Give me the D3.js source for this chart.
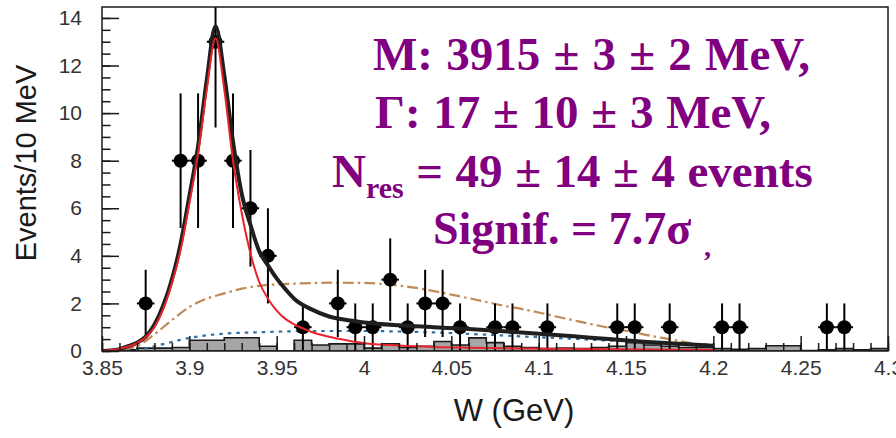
<!DOCTYPE html>
<html>
<head>
<meta charset="utf-8">
<script src="https://cdn.jsdelivr.net/npm/d3@7"></script>
<style>
  html, body { margin: 0; padding: 0; background: #fff; }
  svg { display: block; }
</style>
</head>
<body>
<svg id="chart" width="896" height="438"></svg>
<script>
// ---- data --------------------------------------------------------------
// measured events per 10 MeV bin (bin centres in GeV)
const pointMass = [3.875, 3.895, 3.905, 3.915, 3.925, 3.935, 3.945, 3.965, 3.985, 3.995,
                   4.005, 4.015, 4.025, 4.035, 4.045, 4.055, 4.075, 4.085, 4.105, 4.145,
                   4.155, 4.175, 4.205, 4.215, 4.265, 4.275];
const pointEvents = [2, 8, 8, 13, 8, 6, 4, 1, 2, 1,
                     1, 3, 1, 2, 2, 1, 1, 1, 1, 1,
                     1, 1, 1, 1, 1, 1];

// sideband histogram (lower bin edges, 10 MeV bins)
const histEdges = d3.range(45).map(i => +(3.85 + i * 0.01).toFixed(2));
const histValues = [0, 0.05, 0.12, 0.12, 0.15, 0.45, 0.45, 0.56, 0.56, 0.2,
                    0, 0.45, 0.25, 0.3, 0.3, 0.12, 0.3, 0.15, 0.2, 0.4,
                    0.25, 0.55, 0.35, 0.2, 0.15, 0.1, 0.12, 0.1, 0.15, 0.2,
                    0.35, 0.25, 0.2, 0.15, 0.15, 0.1, 0.07, 0.1, 0.22, 0.22,
                    0.02, 0.05, 0.1, 0.05, 0.1];

// total fit
const totalMass = [3.85, 3.855, 3.86, 3.865, 3.87, 3.875, 3.88, 3.885, 3.89, 3.895,
                   3.9, 3.905, 3.91, 3.915, 3.92, 3.925, 3.93, 3.935, 3.94, 3.945,
                   3.95, 3.955, 3.96, 3.97, 3.98, 3.99, 4.0, 4.02, 4.04, 4.06,
                   4.08, 4.1, 4.12, 4.14, 4.16, 4.18, 4.2];
const totalFit = [0, 0.02, 0.08, 0.2, 0.35, 0.6, 1.1, 1.9, 3.0, 4.5,
                  6.5, 8.6, 11.4, 13.65, 11.6, 8.8, 6.6, 5.3, 4.2, 3.6,
                  3.05, 2.6, 2.2, 1.75, 1.45, 1.3, 1.2, 1.08, 1.0, 0.92,
                  0.83, 0.73, 0.62, 0.5, 0.39, 0.3, 0.22];

// resonance component
const signalMass = [3.85, 3.86, 3.87, 3.875, 3.88, 3.885, 3.89, 3.895, 3.9, 3.905,
                    3.91, 3.915, 3.92, 3.925, 3.93, 3.935, 3.94, 3.945, 3.95, 3.955,
                    3.96, 3.965, 3.97, 3.98, 3.99, 4.0, 4.02, 4.04, 4.06, 4.08,
                    4.1, 4.13, 4.16, 4.2];
const signalFit = [0, 0.1, 0.33, 0.58, 1.0, 1.75, 2.85, 4.25, 6.2, 8.3,
                   11.0, 13.15, 11.0, 8.0, 5.8, 4.1, 2.9, 2.2, 1.7, 1.35,
                   1.12, 0.95, 0.8, 0.6, 0.45, 0.33, 0.23, 0.17, 0.14, 0.12,
                   0.1, 0.08, 0.06, 0.04];

// non-resonant background
const bkgMass = [3.85, 3.86, 3.87, 3.88, 3.89, 3.9, 3.91, 3.92, 3.94, 3.96,
                 3.98, 4.0, 4.02, 4.04, 4.06, 4.08, 4.1, 4.12, 4.14, 4.16,
                 4.18, 4.2];
const bkgFit = [0, 0, 0.04, 0.2, 0.38, 0.55, 0.66, 0.73, 0.79, 0.83,
                0.84, 0.84, 0.82, 0.78, 0.72, 0.65, 0.58, 0.51, 0.44, 0.38,
                0.32, 0.27];

// alternative background shape
const altMass = [3.85, 3.86, 3.87, 3.88, 3.89, 3.9, 3.91, 3.92, 3.93, 3.94,
                 3.96, 3.98, 4.0, 4.01, 4.02, 4.03, 4.04, 4.05, 4.06, 4.07,
                 4.08, 4.09, 4.1, 4.11, 4.12, 4.13, 4.14, 4.15, 4.16, 4.17,
                 4.18, 4.19, 4.2];
const altFit = [0, 0.05, 0.2, 0.7, 1.3, 1.85, 2.2, 2.42, 2.62, 2.74,
                2.83, 2.87, 2.86, 2.82, 2.75, 2.65, 2.52, 2.37, 2.22, 2.06,
                1.9, 1.77, 1.62, 1.45, 1.29, 1.13, 0.98, 0.85, 0.7, 0.56,
                0.43, 0.3, 0.2];

// axis ticks
const xTickValues = [3.85, 3.9, 3.95, 4.0, 4.05, 4.1, 4.15, 4.2, 4.25, 4.3];
const xTickLabels = ["3.85", "3.9", "3.95", "4", "4.05", "4.1", "4.15", "4.2", "4.25", "4.3"];
const yTickValues = [0, 2, 4, 6, 8, 10, 12, 14];
const yTickLabels = ["0", "2", "4", "6", "8", "10", "12", "14"];

// ---- layout ------------------------------------------------------------
const svg = d3.select("#chart");
const frameL = 102, frameR = 888, frameT = 7, frameB = 351;

const x = d3.scaleLinear().domain([3.85, 4.3]).range([frameL, frameR]);
const y = d3.scaleLinear().domain([0, 14.46]).range([frameB, frameT]);

svg.append("defs").append("clipPath").attr("id", "plot")
  .append("rect").attr("x", frameL).attr("y", frameT)
  .attr("width", frameR - frameL).attr("height", frameB - frameT);

const plot = svg.append("g").attr("clip-path", "url(#plot)");

// histogram
const histData = histEdges.map((e, i) => ({ e, v: histValues[i] }));
histData.push({ e: 4.3, v: histValues[histValues.length - 1] });
plot.append("path")
  .datum(histData)
  .attr("fill", "#a6a6a8")
  .attr("stroke", "#1a1a1a")
  .attr("stroke-width", 1.6)
  .attr("d", d3.area().curve(d3.curveStepAfter)
    .x(d => x(d.e)).y0(y(0)).y1(d => y(d.v)));

// fit curves
function curve(xs, ys, color, width, dash) {
  const p = plot.append("path")
    .datum(xs.map((m, i) => [m, ys[i]]))
    .attr("fill", "none")
    .attr("stroke", color)
    .attr("stroke-width", width)
    .attr("stroke-linejoin", "round")
    .attr("d", d3.line().curve(d3.curveMonotoneX).x(d => x(d[0])).y(d => y(d[1])));
  if (dash) p.attr("stroke-dasharray", dash);
  return p;
}
curve(altMass, altFit, "#c08a56", 2.2, "11,4,2.5,4");
curve(bkgMass, bkgFit, "#2d6ea5", 2.2, "3.5,5");

// data points with sqrt(N) errors
const pts = plot.append("g");
pointMass.forEach((m, i) => {
  const n = pointEvents[i], e = Math.sqrt(n);
  pts.append("line")
    .attr("x1", x(m)).attr("x2", x(m))
    .attr("y1", y(Math.max(0, n - e))).attr("y2", y(n + e))
    .attr("stroke", "#000").attr("stroke-width", 2);
  pts.append("line")
    .attr("x1", x(m - 0.005)).attr("x2", x(m + 0.005))
    .attr("y1", y(n)).attr("y2", y(n))
    .attr("stroke", "#000").attr("stroke-width", 2);
  pts.append("circle")
    .attr("cx", x(m)).attr("cy", y(n)).attr("r", 7)
    .attr("fill", "#000");
});

curve(totalMass, totalFit, "#1f1f1f", 4);
curve(signalMass, signalFit, "#e8232b", 2);

// axes (ticks pointing into the frame)
const axisFont = "'Liberation Sans', Arial, Helvetica, sans-serif";

const xMinor = svg.append("g").attr("transform", `translate(0,${frameB})`)
  .call(d3.axisBottom(x).tickValues(d3.range(46).map(i => 3.85 + i * 0.01))
    .tickSize(-8).tickFormat(""));
xMinor.select(".domain").remove();

const xAxis = svg.append("g").attr("transform", `translate(0,${frameB})`)
  .call(d3.axisBottom(x).tickValues(xTickValues).tickSize(-15).tickPadding(9)
    .tickFormat((d, i) => xTickLabels[i]));
xAxis.select(".domain").remove();
xAxis.selectAll("text").attr("font-family", axisFont).attr("font-size", 21).attr("fill", "#333");

const yMinor = svg.append("g").attr("transform", `translate(${frameL},0)`)
  .call(d3.axisLeft(y).tickValues(d3.range(0, 14.5, 0.5)).tickSize(-8.5).tickFormat(""));
yMinor.select(".domain").remove();

const yAxis = svg.append("g").attr("transform", `translate(${frameL},0)`)
  .call(d3.axisLeft(y).tickValues(yTickValues).tickSize(-17).tickPadding(20)
    .tickFormat((d, i) => yTickLabels[i]));
yAxis.select(".domain").remove();
yAxis.selectAll("text").attr("font-family", axisFont).attr("font-size", 21).attr("fill", "#333");

svg.selectAll(".tick line").attr("stroke", "#1a1a1a").attr("stroke-width", 1.5);

// frame
svg.append("rect")
  .attr("x", frameL).attr("y", frameT).attr("width", frameR - frameL).attr("height", frameB - frameT)
  .attr("fill", "none").attr("stroke", "#1a1a1a").attr("stroke-width", 1.5);

// axis titles
svg.append("text")
  .attr("x", 514).attr("y", 421)
  .attr("text-anchor", "middle")
  .attr("font-family", axisFont).attr("font-size", 31).attr("fill", "#1a1a1a")
  .text("W (GeV)");

svg.append("text")
  .attr("transform", "translate(36,163) rotate(-90)")
  .attr("text-anchor", "middle")
  .attr("font-family", axisFont).attr("font-size", 29).attr("fill", "#1a1a1a")
  .text("Events/10 MeV");

// fit results
const purple = "#800080";
const serif = "'Liberation Serif', 'Times New Roman', Times, serif";
const info = svg.append("g")
  .attr("font-family", serif).attr("font-weight", "bold")
  .attr("font-size", 47).attr("fill", purple);

info.append("text").attr("x", 373).attr("y", 70).attr("word-spacing", 1.5)
  .text("M: 3915 ± 3 ± 2 MeV,");
info.append("text").attr("x", 375).attr("y", 128).attr("word-spacing", 1)
  .text("Γ: 17 ± 10 ± 3 MeV,");
const l3 = info.append("text").attr("x", 332).attr("y", 187).attr("word-spacing", 0.8);
l3.append("tspan").text("N");
l3.append("tspan").attr("font-size", 30).attr("dy", 11).text("res");
l3.append("tspan").attr("dy", -11).text(" = 49 ± 14 ± 4 events");
info.append("text").attr("x", 433).attr("y", 244).attr("font-size", 46).text("Signif. = 7.7σ");
info.append("text").attr("x", 704).attr("y", 256).attr("font-size", 28).text(",");
</script>
</body>
</html>
